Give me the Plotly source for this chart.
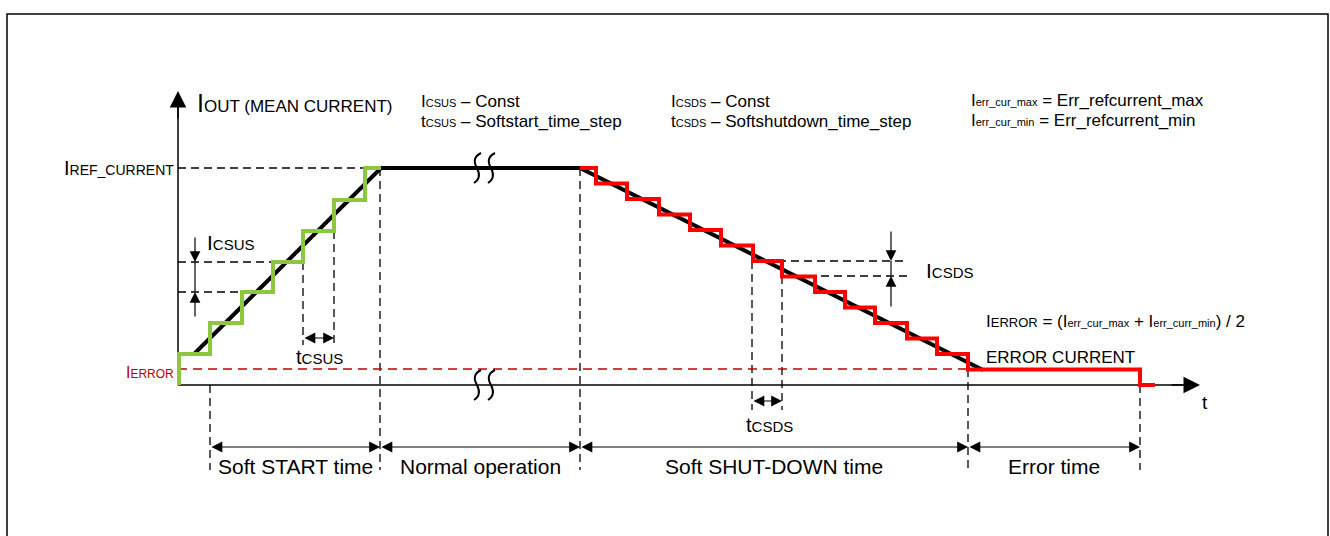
import plotly.graph_objects as go

# diagram units: x = time (left -> right), y = current drawn top-down (screen-like)
T_AXIS = 178          # time origin (y axis position)
I_AXIS = 385          # zero current (x axis position)
I_REF = 168           # I_REF_CURRENT level
I_ERR = 369           # I_ERROR level

# soft start staircase (green)
ss_times = [179, 210, 242, 273, 303, 334, 365]
ss_levels = [354, 323, 292, 262, 231, 200, 168]
ss_end = 381

# soft shut-down staircase (red)
sd_start = 580
sd_times = [596, 627, 659, 690, 721, 753, 782, 815, 845, 875, 907, 937, 968]
sd_levels = [168, 183.5, 199, 214.5, 230, 245.5, 261, 276.5, 292, 307.5, 323, 338.5, 354, 369.5]
err_end = 1140
off_end = 1155

# mean current (black) ramp-up, plateau, ramp-down
mean_t = [195, 381, 580, 983]
mean_i = [353, 168, 168, 370]

# phase boundaries along the time axis
phase_t = [210, 380, 580, 968, 1140]
phase_names = ["Soft START time", "Normal operation", "Soft SHUT-DOWN time", "Error time"]

FONT = "Liberation Sans, Arial, sans-serif"
GREEN = "#8DC63F"
RED = "#FF0000"
DRED = "#C00000"

fig = go.Figure()


def seg_trace(segs, color, width, dash=None):
    xs, ys = [], []
    for x0, y0, x1, y1 in segs:
        xs += [x0, x1, None]
        ys += [y0, y1, None]
    fig.add_trace(go.Scatter(x=xs, y=ys, mode="lines", hoverinfo="skip",
                             line=dict(color=color, width=width, dash=dash)))


# dashed helper lines
dash_black = [
    (T_AXIS, I_REF, 380, I_REF),
    (T_AXIS, 262, 303, 262),
    (T_AXIS, 292, 273, 292),
    (210, I_AXIS, 210, 470),
    (380, I_REF, 380, 470),
    (580, I_REF, 580, 470),
    (968, I_ERR, 968, 470),
    (1140, I_AXIS, 1140, 470),
    (303, 262, 303, 345),
    (334, 231, 334, 345),
    (752, 261, 752, 410),
    (782, 276, 782, 410),
    (752, 261, 907, 261),
    (782, 276, 907, 276),
]
seg_trace(dash_black, "black", 1.3, "8px,5px")
seg_trace([(T_AXIS, I_ERR, 968, I_ERR)], DRED, 1.3, "9px,6px")

# axes
seg_trace([(T_AXIS, I_AXIS, T_AXIS, 100), (T_AXIS, I_AXIS, 1190, I_AXIS)], "black", 1.5)

# mean current
fig.add_trace(go.Scatter(x=mean_t, y=mean_i, mode="lines", hoverinfo="skip",
                         line=dict(color="black", width=4)))

# green staircase
gx, gy = [ss_times[0]], [I_AXIS]
for t, lv in zip(ss_times, ss_levels):
    gx += [t, t]
    gy += [gy[-1], lv]
gx.append(ss_end)
gy.append(ss_levels[-1])
fig.add_trace(go.Scatter(x=gx, y=gy, mode="lines", hoverinfo="skip",
                         line=dict(color=GREEN, width=4)))

# red staircase + error current
rx, ry = [sd_start], [sd_levels[0]]
for t, lv in zip(sd_times, sd_levels[1:]):
    rx += [t, t]
    ry += [ry[-1], lv]
rx += [err_end, err_end, off_end]
ry += [ry[-1], I_AXIS, I_AXIS]
fig.add_trace(go.Scatter(x=rx, y=ry, mode="lines", hoverinfo="skip",
                         line=dict(color=RED, width=4)))

anns = []


def arrow(x0, y0, x1, y1, both=False, size=1.8, width=1.2):
    anns.append(dict(x=x1, y=y1, ax=x0, ay=y0, xref="x", yref="y", axref="x", ayref="y",
                     text="", showarrow=True, arrowhead=2, arrowsize=size, arrowwidth=width,
                     arrowside="end+start" if both else "end", arrowcolor="black",
                     standoff=0, startstandoff=0))


def label(x, y, text, size=17, xanchor="left", color="black"):
    anns.append(dict(x=x, y=y, xref="x", yref="y", text=text, showarrow=False,
                     xanchor=xanchor, yanchor="middle",
                     font=dict(family=FONT, size=size, color=color)))


# axis arrows
arrow(T_AXIS, 120, T_AXIS, 91, size=2.2, width=1.5)
arrow(1170, I_AXIS, 1200, I_AXIS, size=2.2, width=1.5)

# step size arrows
arrow(195, 236, 195, 262)
arrow(195, 318, 195, 292)
seg_trace([(195, 262, 195, 292)], "black", 1.2)
arrow(891, 230, 891, 261)
arrow(891, 308, 891, 276)
seg_trace([(891, 261, 891, 276)], "black", 1.2)
arrow(303, 338, 334, 338, both=True)
arrow(752, 401, 782, 401, both=True)

# phase dimension arrows
for a, b in zip(phase_t[:-1], phase_t[1:]):
    arrow(a, 447, b, 447, both=True)
for a, b, name in zip(phase_t[:-1], phase_t[1:], phase_names):
    label((a + b) / 2, 466, name, size=21, xanchor="center")

sub = '<span style="font-size:%dpx">%s</span>'
label(195, 103, "I" + sub % (17, "OUT (MEAN CURRENT)"), size=25)
label(176, 168, "I" + sub % (14, "REF_CURRENT"), size=20, xanchor="right")
label(176, 372, "I" + sub % (12, "ERROR"), size=16, xanchor="right", color=DRED)
label(205, 242, "I" + sub % (15, "CSUS"), size=21)
label(294, 357, "t" + sub % (15, "CSUS"), size=20)
label(924, 270, "I" + sub % (15, "CSDS"), size=21)
label(744, 425, "t" + sub % (15, "CSDS"), size=20)
label(419, 101, "I" + sub % (11, "CSUS") + " – Const", size=17)
label(419, 121, "t" + sub % (11, "CSUS") + " – Softstart_time_step", size=17)
label(669, 101, "I" + sub % (11, "CSDS") + " – Const", size=17)
label(669, 121, "t" + sub % (11, "CSDS") + " – Softshutdown_time_step", size=17)
label(969, 100, "I" + sub % (11, "err_cur_max") + " = Err_refcurrent_max", size=17)
label(969, 120, "I" + sub % (11, "err_cur_min") + " = Err_refcurrent_min", size=17)
label(984, 321, "I" + sub % (13, "ERROR") + " = (I" + sub % (11, "err_cur_max")
      + " + I" + sub % (11, "err_curr_min") + ") / 2", size=17)
label(984, 357, "ERROR CURRENT", size=17)
label(1200, 402, "t", size=19)

# break marks on plateau and time axis
shapes = []
for bx in [477, 491]:
    for by in [I_REF, I_AXIS]:
        shapes.append(dict(type="path", xref="x", yref="y",
                           path=f"M {bx+4},{by-15} Q {bx-6},{by-10} {bx},{by} "
                                f"Q {bx+5},{by+10} {bx-3},{by+15}",
                           line=dict(color="black", width=2)))
# frame
shapes.append(dict(type="rect", xref="x", yref="y", x0=7, y0=14, x1=1328, y1=560,
                   line=dict(color="black", width=1.5)))

fig.update_layout(
    width=1330, height=536, margin=dict(l=0, r=0, t=0, b=0),
    paper_bgcolor="white", plot_bgcolor="white", showlegend=False,
    xaxis=dict(range=[0, 1330], visible=False, fixedrange=True),
    yaxis=dict(range=[536, 0], visible=False, fixedrange=True),
    annotations=anns, shapes=shapes,
)
fig.write_html("out.html", config={"displayModeBar": False},
               post_script="document.body.style.margin='0';document.body.style.overflow='hidden';")
